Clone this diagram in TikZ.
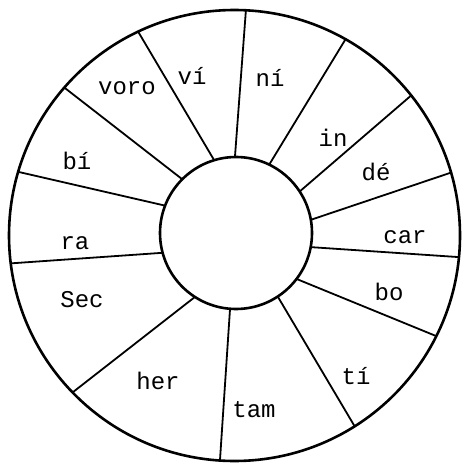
\documentclass[tikz,border=0pt]{standalone}
\usepackage{fontspec}
\setmainfont{Liberation Mono}
\begin{document}
\begin{tikzpicture}[x=1pt,y=-1pt,
  rim/.style={line width=2.6pt},
  spoke/.style={line width=1.8pt},
  lbl/.style={font=\fontsize{24}{24}\selectfont, inner sep=0pt}]
\useasboundingbox (0,0) rectangle (463,465);
\coordinate (oc) at (234.5,235.5);
\coordinate (ic) at (236,233);
\draw[rim] (oc) circle[radius=225.5];
\draw[rim] (ic) circle[radius=76];
\foreach \n/\a/\b in {1/164.9/172.9, 2/201.1/196.4, 3/225/221, 4/253.3/244.7,
  5/269.2/272.9, 6/295.9/299.5, 7/326.9/321.6, 8/350/343.8, 9/10.7/5.5,
  10/37.2/26.5, 11/56.7/57.8, 12/94.5/93.7, 13/122.7/135.9} {
  \coordinate (i\n) at ([shift={(\a:76)}]ic);
  \coordinate (o\n) at ([shift={(\b:225.5)}]oc);
  \draw[spoke] (i\n) -- (o\n);
}
\node[lbl] (ra) at (75,243) {ra};
\node[lbl] (bi) at (77,161) {bí};
\node[lbl] (voro) at (127,88) {voro};
\node[lbl] (vi) at (192,76) {ví};
\node[lbl] (ni) at (270,78) {ní};
\node[lbl] (in) at (333,138) {in};
\node[lbl] (de) at (376,172) {dé};
\node[lbl] (car) at (405,237) {car};
\node[lbl] (bo) at (389,292) {bo};
\node[lbl] (ti) at (356,376) {tí};
\node[lbl] (tam) at (254,410) {tam};
\node[lbl] (her) at (158,381) {her};
\node[lbl] (sec) at (82,300) {Sec};
\end{tikzpicture}
\end{document}
